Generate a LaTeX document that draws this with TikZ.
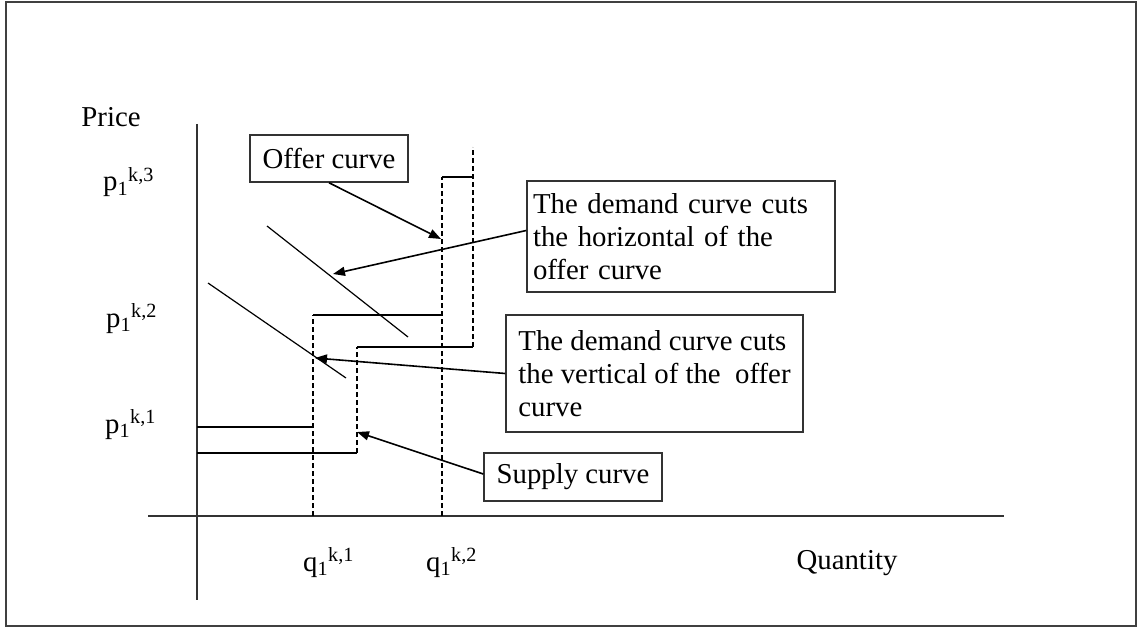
\documentclass[tikz,border=0pt]{standalone}
\usepackage{fontspec}
\setmainfont{Liberation Serif}
\usepackage{tikz}
\usetikzlibrary{arrows.meta, positioning}

\begin{document}
\begin{tikzpicture}[x=1pt, y=-1pt,
  every node/.style={font=\fontsize{28.8}{33}\selectfont},
  box/.style={rectangle, draw=black!80, line width=1.5pt, inner ysep=0pt},
  ed/.style={-{Triangle[length=12pt,width=9pt]}, line width=1.6pt},
  ax/.style={line width=1.8pt, black!80},
  stp/.style={line width=1.4pt},
  dsh/.style={line width=1.4pt, dash pattern=on 5pt off 3pt},
  crv/.style={line width=1.2pt},
  lbl/.style={inner sep=0pt, anchor=base west}
]
\useasboundingbox (0,0) rectangle (1138,628);
%% Frame
\draw[line width=2.5pt, black!75] (6,2) rectangle (1136,626);
%% Axes
\draw[ax] (197,124) -- (197,600);
\draw[ax] (148,516) -- (1004,516);
\node[inner sep=0pt, anchor=base] (price) at (111,127) {Price};
\node[inner sep=0pt, anchor=base] (qty) at (847,569) {Quantity};
%% Price levels
\node[lbl] (p3) at (103,191) {p\textsubscript{1}\textsuperscript{k,3}};
\node[lbl] (p2) at (106,327) {p\textsubscript{1}\textsuperscript{k,2}};
\node[lbl] (p1) at (105,433) {p\textsubscript{1}\textsuperscript{k,1}};
%% Quantity levels
\node[lbl] (q1) at (303,571) {q\textsubscript{1}\textsuperscript{k,1}};
\node[lbl] (q2) at (426,571) {q\textsubscript{1}\textsuperscript{k,2}};
%% Offer curve
\draw[stp] (197,427) -- (313,427);
\draw[dsh] (313,516) -- (313,315);
\draw[stp] (313,315) -- (442,315);
\draw[dsh] (442,516) -- (442,177);
\draw[stp] (442,177) -- (473,177);
%% Supply curve
\draw[stp] (197,453) -- (357,453);
\draw[dsh] (357,453) -- (357,347);
\draw[stp] (357,347) -- (473,347);
\draw[dsh] (473,347) -- (473,147);
%% Demand curves
\draw[crv] (267,226) -- (408,337);
\draw[crv] (208,283) -- (346,378);
%% Boxes
\node[box, minimum width=158pt, minimum height=47pt] (offer) at (329,158.5) {Offer curve};
\node[box, text width=296pt, inner xsep=6pt, minimum height=111pt, align=left] (hcut) at (681,236.5)
  {The demand curve cuts\\the horizontal of the\\offer curve};
\node[box, inner xsep=4pt, minimum width=297pt, minimum height=117pt, align=left] (vcut) at (654.5,373.5)
  {The demand curve cuts\\the vertical of the\ \ offer\\curve};
\node[box, minimum width=178pt, minimum height=48pt] (supply) at (573,477) {Supply curve};
%% Arrow tips
\coordinate (tipO) at (441,239);
\coordinate (tipH) at (333,274);
\coordinate (tipV) at (315,358);
\coordinate (tipS) at (357,432);
\draw[ed] (offer.south) -- (tipO);
\draw[ed] ([yshift=6pt]hcut.west) -- (tipH);
\draw[ed] (vcut.west) -- (tipV);
\draw[ed] ([yshift=3pt]supply.west) -- (tipS);
\end{tikzpicture}
\end{document}
